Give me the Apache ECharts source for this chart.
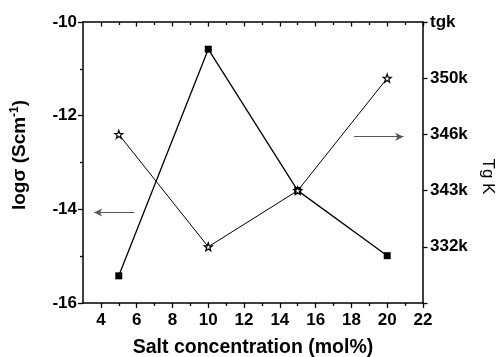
<!DOCTYPE html>
<html>
<head>
<meta charset="utf-8">
<script src="https://cdn.jsdelivr.net/npm/echarts@6/dist/echarts.min.js"></script>
<style>
  html, body { margin: 0; padding: 0; background: #fff; }
  #chart { width: 500px; height: 357px; }
</style>
</head>
<body>
<div id="chart"></div>
<script>
// Salt concentration (mol%)
const saltConc = [5, 10, 15, 20];
// Conductivity, log sigma (S cm^-1)
const logSigma = [-15.42, -10.58, -13.6, -14.99];
// Glass transition temperature labels on the right axis (bottom to top)
const tgCategories = ['', '332k', '343k', '346k', '350k', 'tgk'];
// Tg of each sample, read on the right axis
const tgValues = ['346k', '332k', '343k', '350k'];
// Axis ticks
const xMajorTicks = [4, 6, 8, 10, 12, 14, 16, 18, 20, 22];
const xMinorTicks = [5, 7, 9, 11, 13, 15, 17, 19, 21];

const FONT = '"Liberation Sans", Arial, Helvetica, sans-serif';
const starPath = 'path://M0,-10 L2.35,-3.24 L9.51,-3.09 L3.8,1.24 L5.88,8.09 L0,4 L-5.88,8.09 L-3.8,1.24 L-9.51,-3.09 L-2.35,-3.24 Z';

const baseX = { type: 'value', min: 3, max: 22, interval: 1, splitLine: { show: false } };
const axisLineStyle = { color: '#000', width: 1.5 };
const tickStyle = { color: '#000', width: 1.3 };
const tickFont = { fontFamily: FONT, fontWeight: 'bold', fontSize: 17, color: '#000' };

const option = {
  animation: false,
  backgroundColor: '#fff',
  grid: { left: 83, right: 77, top: 22, bottom: 54, containLabel: false, outerBoundsMode: 'none' },
  xAxis: [
    Object.assign({}, baseX, {
      position: 'bottom',
      name: 'Salt concentration (mol%)',
      nameLocation: 'middle',
      nameGap: 35,
      nameTextStyle: { fontFamily: FONT, fontWeight: 'bold', fontSize: 19.5, color: '#000' },
      axisLine: { show: true, lineStyle: axisLineStyle },
      axisTick: { show: true, length: 5, customValues: xMajorTicks, lineStyle: tickStyle },
      axisLabel: Object.assign({ show: true, customValues: xMajorTicks, margin: 9 }, tickFont)
    }),
    Object.assign({}, baseX, {
      position: 'bottom',
      axisLine: { show: false },
      axisTick: { show: true, length: 3, customValues: xMinorTicks, lineStyle: tickStyle },
      axisLabel: { show: false }
    }),
    Object.assign({}, baseX, {
      position: 'top',
      axisLine: { show: true, lineStyle: axisLineStyle },
      axisTick: { show: true, inside: true, length: 4.5, customValues: xMajorTicks, lineStyle: tickStyle },
      axisLabel: { show: false }
    }),
    Object.assign({}, baseX, {
      position: 'top',
      axisLine: { show: false },
      axisTick: { show: true, inside: true, length: 3, customValues: xMinorTicks, lineStyle: tickStyle },
      axisLabel: { show: false }
    })
  ],
  yAxis: [
    {
      type: 'value',
      position: 'left',
      min: -16, max: -10, interval: 2,
      name: '{t|logσ (Scm}{s|-1}{t|)}',
      nameLocation: 'middle',
      nameGap: 53,
      nameRotate: 90,
      nameTextStyle: {
        padding: [0, 0, 0, 15],
        rich: {
          t: { fontFamily: FONT, fontWeight: 'bold', fontSize: 19, color: '#000' },
          s: { fontFamily: FONT, fontWeight: 'bold', fontSize: 12, color: '#000', verticalAlign: 'top', padding: [0, 0, 9, 0] }
        }
      },
      splitLine: { show: false },
      axisLine: { show: true, lineStyle: axisLineStyle },
      axisTick: { show: true, length: 5, lineStyle: tickStyle },
      minorTick: { show: true, splitNumber: 2, length: 3, lineStyle: tickStyle },
      axisLabel: Object.assign({ margin: 6 }, tickFont)
    },
    {
      type: 'category',
      position: 'right',
      data: tgCategories,
      boundaryGap: false,
      name: 'Tg K',
      nameLocation: 'middle',
      nameGap: 49,
      nameRotate: -90,
      nameTextStyle: { fontFamily: FONT, fontSize: 17, color: '#000', padding: [0, 0, 0, 28] },
      splitLine: { show: false },
      axisLine: { show: true, lineStyle: axisLineStyle },
      axisTick: { show: true, length: 4.5, alignWithLabel: true, lineStyle: tickStyle },
      axisLabel: Object.assign({ margin: 7 }, tickFont)
    }
  ],
  series: [
    {
      name: 'logσ',
      type: 'line',
      xAxisIndex: 0,
      yAxisIndex: 0,
      data: saltConc.map((x, i) => [x, logSigma[i]]),
      symbol: 'rect',
      symbolSize: 7,
      lineStyle: { color: '#000', width: 1.3 },
      itemStyle: { color: '#000' },
      z: 3,
      markLine: {
        silent: true,
        symbol: ['none', 'arrow'],
        symbolSize: [6, 8],
        label: { show: false },
        lineStyle: { color: '#555', width: 1.2, type: 'solid' },
        data: [
          [{ coord: [5.87, -14.07] }, { coord: [3.62, -14.07] }],
          [{ coord: [18.15, -12.45] }, { coord: [20.9, -12.45] }]
        ]
      }
    },
    {
      name: 'Tg',
      type: 'line',
      xAxisIndex: 0,
      yAxisIndex: 1,
      data: saltConc.map((x, i) => [x, tgValues[i]]),
      symbol: starPath,
      symbolSize: 8,
      lineStyle: { color: '#000', width: 1 },
      itemStyle: { color: '#fff', borderColor: '#000', borderWidth: 1.2 },
      z: 4
    }
  ]
};

const chart = echarts.init(document.getElementById('chart'), null, { renderer: 'canvas' });
chart.setOption(option);
</script>
</body>
</html>
